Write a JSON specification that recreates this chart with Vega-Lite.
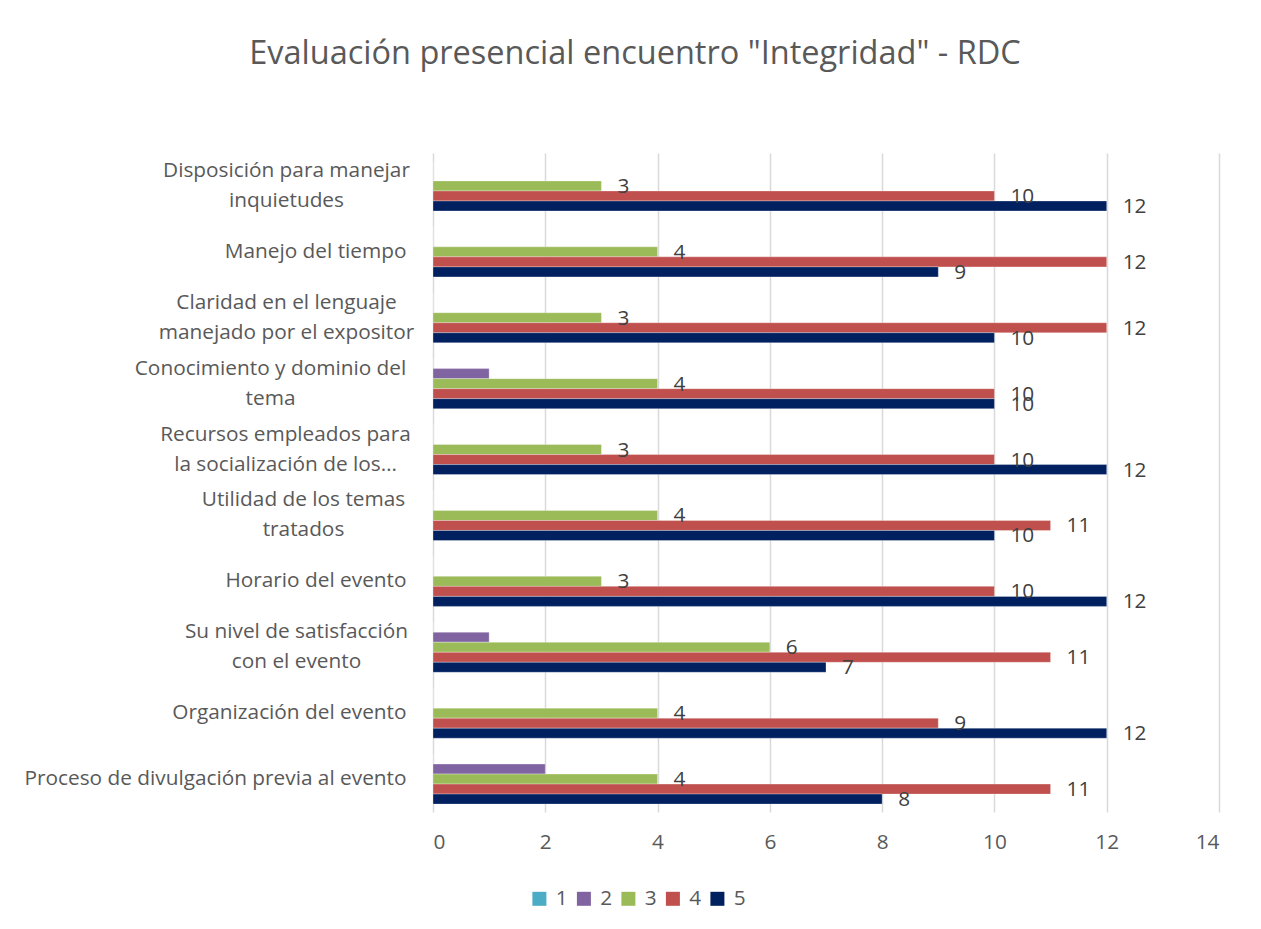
{
  "$schema": "https://vega.github.io/schema/vega-lite/v6.json",
  "width": 786,
  "height": 659,
  "autosize": {"type": "none"},
  "padding": {"left": 433, "top": 153, "right": 42, "bottom": 117},
  "background": "white",
  "title": {
    "text": "Evaluación presencial encuentro \"Integridad\" - RDC",
    "font": "Open Sans",
    "fontSize": 32.5,
    "fontWeight": "normal",
    "color": "#595959",
    "anchor": "middle",
    "frame": "group",
    "dx": -191,
    "offset": 83
  },
  "config": {
    "view": {"stroke": null},
    "font": "Open Sans",
    "legend": {"padding": 0}
  },
  "data": {
    "values": [
      {"cat": "Disposición para manejar|inquietudes", "s": "1", "v": 0},
      {"cat": "Disposición para manejar|inquietudes", "s": "2", "v": 0},
      {"cat": "Disposición para manejar|inquietudes", "s": "3", "v": 3},
      {"cat": "Disposición para manejar|inquietudes", "s": "4", "v": 10},
      {"cat": "Disposición para manejar|inquietudes", "s": "5", "v": 12},
      {"cat": "Manejo del tiempo", "s": "1", "v": 0},
      {"cat": "Manejo del tiempo", "s": "2", "v": 0},
      {"cat": "Manejo del tiempo", "s": "3", "v": 4},
      {"cat": "Manejo del tiempo", "s": "4", "v": 12},
      {"cat": "Manejo del tiempo", "s": "5", "v": 9},
      {"cat": "Claridad en el lenguaje|manejado por el expositor", "s": "1", "v": 0},
      {"cat": "Claridad en el lenguaje|manejado por el expositor", "s": "2", "v": 0},
      {"cat": "Claridad en el lenguaje|manejado por el expositor", "s": "3", "v": 3},
      {"cat": "Claridad en el lenguaje|manejado por el expositor", "s": "4", "v": 12},
      {"cat": "Claridad en el lenguaje|manejado por el expositor", "s": "5", "v": 10},
      {"cat": "Conocimiento y dominio del|tema", "s": "1", "v": 0},
      {"cat": "Conocimiento y dominio del|tema", "s": "2", "v": 1},
      {"cat": "Conocimiento y dominio del|tema", "s": "3", "v": 4},
      {"cat": "Conocimiento y dominio del|tema", "s": "4", "v": 10},
      {"cat": "Conocimiento y dominio del|tema", "s": "5", "v": 10},
      {"cat": "Recursos empleados para|la socialización de los…", "s": "1", "v": 0},
      {"cat": "Recursos empleados para|la socialización de los…", "s": "2", "v": 0},
      {"cat": "Recursos empleados para|la socialización de los…", "s": "3", "v": 3},
      {"cat": "Recursos empleados para|la socialización de los…", "s": "4", "v": 10},
      {"cat": "Recursos empleados para|la socialización de los…", "s": "5", "v": 12},
      {"cat": "Utilidad de los temas|tratados", "s": "1", "v": 0},
      {"cat": "Utilidad de los temas|tratados", "s": "2", "v": 0},
      {"cat": "Utilidad de los temas|tratados", "s": "3", "v": 4},
      {"cat": "Utilidad de los temas|tratados", "s": "4", "v": 11},
      {"cat": "Utilidad de los temas|tratados", "s": "5", "v": 10},
      {"cat": "Horario del evento", "s": "1", "v": 0},
      {"cat": "Horario del evento", "s": "2", "v": 0},
      {"cat": "Horario del evento", "s": "3", "v": 3},
      {"cat": "Horario del evento", "s": "4", "v": 10},
      {"cat": "Horario del evento", "s": "5", "v": 12},
      {"cat": "Su nivel de satisfacción|con el evento", "s": "1", "v": 0},
      {"cat": "Su nivel de satisfacción|con el evento", "s": "2", "v": 1},
      {"cat": "Su nivel de satisfacción|con el evento", "s": "3", "v": 6},
      {"cat": "Su nivel de satisfacción|con el evento", "s": "4", "v": 11},
      {"cat": "Su nivel de satisfacción|con el evento", "s": "5", "v": 7},
      {"cat": "Organización del evento", "s": "1", "v": 0},
      {"cat": "Organización del evento", "s": "2", "v": 0},
      {"cat": "Organización del evento", "s": "3", "v": 4},
      {"cat": "Organización del evento", "s": "4", "v": 9},
      {"cat": "Organización del evento", "s": "5", "v": 12},
      {"cat": "Proceso de divulgación previa al evento", "s": "1", "v": 0},
      {"cat": "Proceso de divulgación previa al evento", "s": "2", "v": 2},
      {"cat": "Proceso de divulgación previa al evento", "s": "3", "v": 4},
      {"cat": "Proceso de divulgación previa al evento", "s": "4", "v": 11},
      {"cat": "Proceso de divulgación previa al evento", "s": "5", "v": 8}
    ]
  },
  "encoding": {
    "y": {
      "field": "cat",
      "type": "nominal",
      "sort": null,
      "title": null,
      "scale": {"paddingInner": 0.24, "paddingOuter": 0.12},
      "axis": {
        "domain": false,
        "ticks": false,
        "labelExpr": "split(datum.label, '|')",
        "labelFontSize": 20.8,
        "labelColor": "#595959",
        "labelLineHeight": 30,
        "labelLimit": 500,
        "labelAlign": {"condition": {"test": "indexof(datum.value, '|') >= 0", "value": "center"}, "value": "right"},
        "labelOffset": {"condition": {"test": "indexof(datum.value, '|') >= 0", "value": -15}, "value": 0},
        "labelPadding": {
          "condition": [
            {"test": "indexof(datum.value, 'Disposici') >= 0", "value": 147},
            {"test": "indexof(datum.value, 'Claridad') >= 0", "value": 147},
            {"test": "indexof(datum.value, 'Conocimiento') >= 0", "value": 163},
            {"test": "indexof(datum.value, 'Recursos') >= 0", "value": 148},
            {"test": "indexof(datum.value, 'Utilidad') >= 0", "value": 130},
            {"test": "indexof(datum.value, 'Su nivel') >= 0", "value": 137}
          ],
          "value": 27
        }
      }
    },
    "yOffset": {"field": "s", "type": "nominal", "sort": "ascending"},
    "x": {
      "field": "v",
      "type": "quantitative",
      "title": null,
      "scale": {"domain": [0, 14], "nice": false},
      "axis": {
        "values": [0, 2, 4, 6, 8, 10, 12, 14],
        "domain": false,
        "ticks": false,
        "grid": true,
        "gridColor": "#D9D9D9",
        "gridWidth": 1.5,
        "labelFontSize": 20.8,
        "labelColor": "#595959",
        "labelPadding": 20
      }
    }
  },
  "layer": [
    {
      "mark": {"type": "bar", "stroke": "white", "strokeWidth": 0.5, "strokeOpacity": 0.6},
      "encoding": {
        "color": {
          "field": "s",
          "type": "nominal",
          "scale": {"domain": ["1", "2", "3", "4", "5"], "range": ["#4BACC6", "#8064A2", "#9BBB59", "#C0504D", "#002060"]},
          "legend": {
            "title": null,
            "orient": "none",
            "direction": "horizontal",
            "legendX": 96,
            "legendY": 735,
            "symbolType": "square",
            "symbolSize": 196,
            "symbolStrokeWidth": 0,
            "labelFontSize": 20.8,
            "labelColor": "#595959",
            "labelOffset": 6,
            "columnPadding": 5.5
          }
        }
      }
    },
    {
      "transform": [{"filter": "datum.s == '3' || datum.s == '4' || datum.s == '5'"}],
      "mark": {"type": "text", "align": "left", "baseline": "middle", "dx": 16, "dy": 1, "fontSize": 20.8, "color": "#404040"},
      "encoding": {"text": {"field": "v", "type": "quantitative"}}
    }
  ]
}
